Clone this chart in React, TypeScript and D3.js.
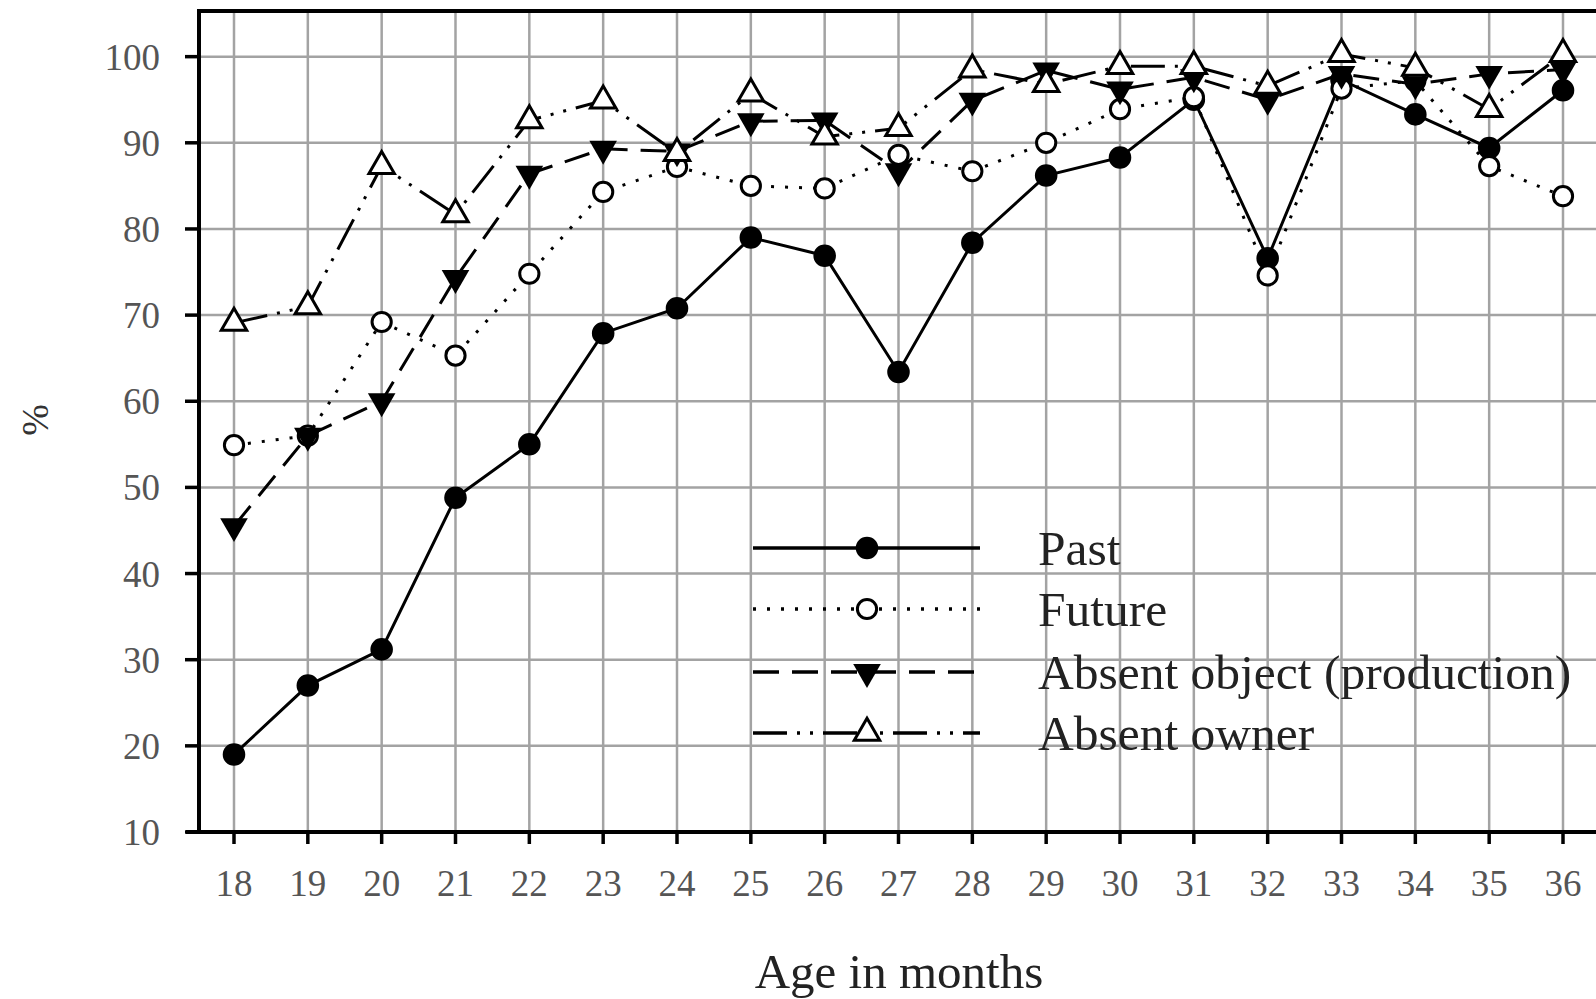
import React from 'react';
import * as d3 from 'd3';

const ages = [18, 19, 20, 21, 22, 23, 24, 25, 26, 27, 28, 29, 30, 31, 32, 33, 34, 35, 36];
const yTicks = [10, 20, 30, 40, 50, 60, 70, 80, 90, 100];

const past = [19.0, 27.0, 31.2, 48.8, 55.0, 67.9, 70.8, 79.0, 76.9, 63.4, 78.4, 86.2, 88.3, 95.0, 76.6, 97.3, 93.3, 89.4, 96.1];
const future = [54.9, 56.0, 69.2, 65.3, 74.8, 84.3, 87.2, 85.0, 84.7, 88.6, 86.7, 90.0, 93.9, 95.3, 74.6, 96.3, 97.2, 87.3, 83.8];
const absentObject = [45.5, 56.0, 60.0, 74.3, 86.4, 89.3, 89.0, 92.5, 92.6, 86.7, 94.9, 98.4, 96.2, 97.6, 95.0, 98.0, 96.8, 98.0, 98.5];
const absentOwner = [69.1, 71.0, 87.3, 81.7, 92.6, 94.9, 88.8, 95.7, 90.7, 91.7, 98.5, 96.8, 98.9, 98.9, 96.6, 100.3, 98.7, 93.9, 100.3];

const seriesNames = ['Past', 'Future', 'Absent object (production)', 'Absent owner'];
const seriesValues = [past, future, absentObject, absentOwner];

type Style = { dash: string | null; marker: 'fcircle' | 'ocircle' | 'ftri' | 'otri' };
const styles: Style[] = [
  { dash: null, marker: 'fcircle' },
  { dash: '3,11', marker: 'ocircle' },
  { dash: '26,13', marker: 'ftri' },
  { dash: '34,10,3,10,3,10', marker: 'otri' },
];

function Marker({ kind, cx, cy }: { kind: string; cx: number; cy: number }) {
  if (kind === 'fcircle') {
    const d = d3.symbol().type(d3.symbolCircle).size(400)() as string;
    return <path d={d} transform={`translate(${cx},${cy})`} fill="#000" />;
  }
  if (kind === 'ocircle') {
    const d = d3.symbol().type(d3.symbolCircle).size(290)() as string;
    return <path d={d} transform={`translate(${cx},${cy})`} fill="#fff" stroke="#000" strokeWidth={3} />;
  }
  if (kind === 'ftri') {
    const d = d3.symbol().type(d3.symbolTriangle).size(330)() as string;
    return <path d={d} transform={`translate(${cx},${cy}) rotate(180)`} fill="#000" />;
  }
  const d = d3.symbol().type(d3.symbolTriangle).size(280)() as string;
  return <path d={d} transform={`translate(${cx},${cy})`} fill="#fff" stroke="#000" strokeWidth={3} />;
}

export default function App() {
  const W = 1596, H = 999;
  const left = 199, right = 1598, top = 11, bottom = 832;
  const x = d3.scaleLinear().domain([17.526, 36.474]).range([left, right]);
  const y = d3.scaleLinear().domain([10, 105.3]).range([bottom, top]);
  const line = d3.line<number>().x((_, i) => x(ages[i])).y((v) => y(v));

  const legendRows = [548, 609, 672, 733];
  const legX0 = 753, legX1 = 980, legM = 867, legText = 1038;

  return (
    <svg width={W} height={H} style={{ position: 'absolute', left: 0, top: 0, display: 'block', background: '#fff' }}>
      <rect x={0} y={0} width={W} height={H} fill="#fff" />
      {yTicks.filter((t) => t > 10).map((t) => (
        <line key={'hy' + t} x1={left} x2={right} y1={y(t)} y2={y(t)} stroke="#a3a3a3" strokeWidth={2.5} />
      ))}
      {ages.map((a) => (
        <line key={'vx' + a} x1={x(a)} x2={x(a)} y1={top} y2={bottom} stroke="#a3a3a3" strokeWidth={2.5} />
      ))}
      <line x1={left} x2={right} y1={top} y2={top} stroke="#000" strokeWidth={4} />
      <line x1={left} x2={left} y1={top - 2} y2={bottom + 2} stroke="#000" strokeWidth={4} />
      <line x1={186} x2={right} y1={bottom} y2={bottom} stroke="#000" strokeWidth={4} />
      {yTicks.map((t) => (
        <g key={'yt' + t}>
          <line x1={185} x2={left} y1={y(t)} y2={y(t)} stroke="#000" strokeWidth={3.5} />
          <text x={160} y={y(t)} dy="0.35em" textAnchor="end" fontFamily="'Liberation Serif', serif" fontSize={37} fill="#555">
            {t}
          </text>
        </g>
      ))}
      {ages.map((a) => (
        <g key={'xt' + a}>
          <line x1={x(a)} x2={x(a)} y1={bottom} y2={bottom + 12} stroke="#000" strokeWidth={3.5} />
          <text x={x(a)} y={896} textAnchor="middle" fontFamily="'Liberation Serif', serif" fontSize={37} fill="#555">
            {a}
          </text>
        </g>
      ))}
      <text x={899} y={988} textAnchor="middle" fontFamily="'Liberation Serif', serif" fontSize={49} fill="#222">
        Age in months
      </text>
      <text transform="translate(48,420) rotate(-90)" textAnchor="middle" fontFamily="'Liberation Serif', serif" fontSize={38} fill="#333">
        %
      </text>
      {seriesValues.map((vals, si) => (
        <g key={'s' + si}>
          <path d={line(vals) as string} fill="none" stroke="#000" strokeWidth={3} strokeDasharray={styles[si].dash ?? undefined} />
          {vals.map((v, i) => (
            <Marker key={i} kind={styles[si].marker} cx={x(ages[i])} cy={y(v)} />
          ))}
        </g>
      ))}
      {seriesNames.map((name, si) => (
        <g key={'l' + si}>
          <line x1={legX0} x2={legX1} y1={legendRows[si]} y2={legendRows[si]} stroke="#000" strokeWidth={3.5} strokeDasharray={styles[si].dash ?? undefined} />
          <Marker kind={styles[si].marker} cx={legM} cy={legendRows[si]} />
          <text x={legText} y={legendRows[si] + 17} fontFamily="'Liberation Serif', serif" fontSize={49.5} fill="#222">
            {name}
          </text>
        </g>
      ))}
    </svg>
  );
}
